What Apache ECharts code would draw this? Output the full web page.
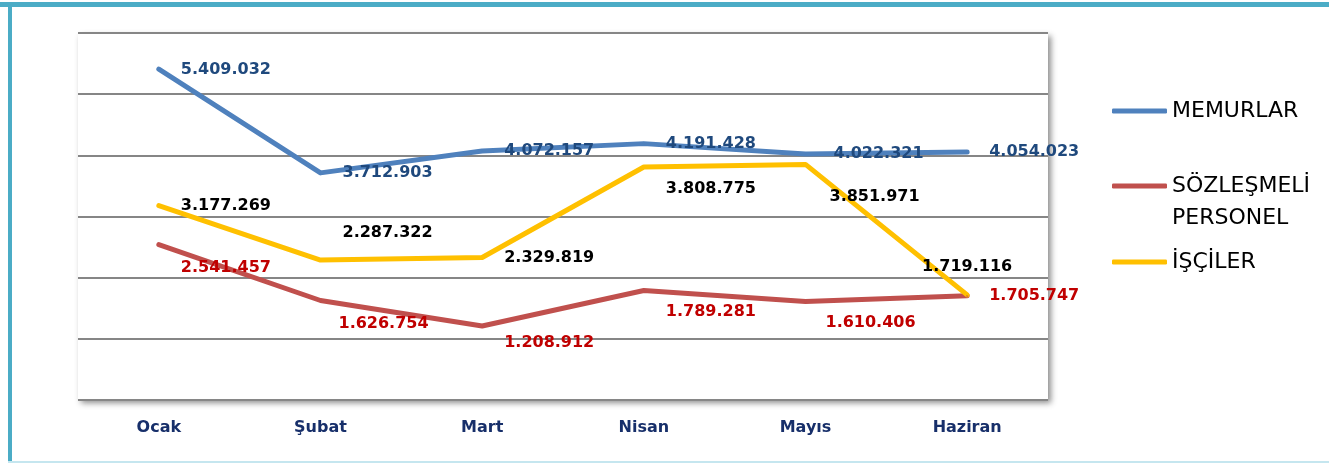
<!DOCTYPE html>
<html>
<head>
<meta charset="utf-8">
<script src="https://cdn.jsdelivr.net/npm/echarts@6/dist/echarts.min.js"></script>
<style>
html, body { margin: 0; padding: 0; background: #fff; }
#main { width: 1329px; height: 463px; }
</style>
</head>
<body>
<div id="main"></div>
<script>
var categories = ['Ocak', 'Şubat', 'Mart', 'Nisan', 'Mayıs', 'Haziran'];
var memurlar = [5409032, 3712903, 4072157, 4191428, 4022321, 4054023];
var sozlesmeli = [2541457, 1626754, 1208912, 1789281, 1610406, 1705747];
var isciler = [3177269, 2287322, 2329819, 3808775, 3851971, 1719116];
var seriesNames = ['MEMURLAR', 'SÖZLEŞMELİ PERSONEL', 'İŞÇİLER'];

function fmt(v) {
    return String(v).replace(/\B(?=(\d{3})+(?!\d))/g, '.');
}

// label nudges per point [dx, dy]
function withOffsets(values, offs, extra) {
    return values.map(function (v, i) {
        var lab = { offset: offs[i] };
        if (extra && extra[i]) {
            for (var k in extra[i]) lab[k] = extra[i][k];
        }
        return { value: v, label: lab };
    });
}

var labelFont = 'DejaVu Sans';

function lineSeries(name, data, color, labelColor) {
    return {
        name: name,
        type: 'line',
        data: data,
        symbol: 'circle',
        symbolSize: 2,
        showSymbol: true,
        itemStyle: { color: color },
        lineStyle: { color: color, width: 5, cap: 'round', join: 'round' },
        label: {
            show: true,
            position: 'right',
            distance: 21,
            color: labelColor,
            fontFamily: labelFont,
            fontWeight: 'bold',
            fontSize: 16,
            formatter: function (p) { return fmt(p.value); }
        },
        emphasis: { disabled: true },
        animation: false
    };
}

var myChart = echarts.init(document.getElementById('main'));

var legendBase = {
    orient: 'vertical',
    left: 1112,
    padding: 0,
    icon: 'roundRect',
    itemWidth: 55,
    itemHeight: 5,
    selectedMode: false,
    textStyle: { fontFamily: labelFont, fontSize: 22, color: '#000', lineHeight: 32 }
};

option = {
    backgroundColor: '#fff',
    graphic: [
        { type: 'rect', z: -10, shape: { x: 0, y: 2, width: 1329, height: 5 }, style: { fill: '#4BACC6' } },
        { type: 'rect', z: -10, shape: { x: 8, y: 2, width: 4, height: 461 }, style: { fill: '#4BACC6' } },
        { type: 'rect', z: -10, shape: { x: 8, y: 461, width: 1321, height: 2 }, style: { fill: '#C5E6EF' } }
    ],
    legend: [
        Object.assign({}, legendBase, { top: 95, data: [seriesNames[0]] }),
        Object.assign({}, legendBase, {
            top: 138, data: [seriesNames[1]],
            // blank first line keeps the icon level with the first word
            formatter: function () { return ' \nSÖZLEŞMELİ\nPERSONEL'; }
        }),
        Object.assign({}, legendBase, { top: 246, data: [seriesNames[2]] })
    ],
    grid: {
        left: 78,
        right: 281,
        top: 33,
        bottom: 63,
        show: true,
        backgroundColor: '#fff',
        borderWidth: 0,
        shadowColor: 'rgba(0,0,0,0.45)',
        shadowBlur: 6,
        shadowOffsetX: 3,
        shadowOffsetY: 3
    },
    xAxis: {
        type: 'category',
        data: categories,
        boundaryGap: true,
        axisLine: { show: false },
        axisTick: { show: false },
        axisLabel: {
            margin: 20,
            color: '#172F6A',
            fontFamily: labelFont,
            fontWeight: 'bold',
            fontSize: 16
        }
    },
    yAxis: {
        type: 'value',
        min: 0,
        max: 6000000,
        interval: 1000000,
        axisLine: { show: false },
        axisTick: { show: false },
        axisLabel: { show: false },
        splitLine: { lineStyle: { color: '#868686', width: 2 } }
    },
    series: [
        lineSeries(seriesNames[0],
            withOffsets(memurlar, [[0, 1], [0, 0], [0, 0], [0, 0], [6, 0], [0, 0]]),
            '#4F81BD', '#1F497D'),
        lineSeries(seriesNames[1],
            withOffsets(sozlesmeli, [[0, 23], [-4, 23], [0, 17], [0, 21], [-2, 21], [0, 0]]),
            '#C0504D', '#C00000'),
        lineSeries(seriesNames[2],
            withOffsets(isciler, [[0, 0], [0, -27], [0, 0], [0, 22], [2, 32], [0, 0]],
                [null, null, null, null, null, { position: 'top', distance: 19 }]),
            '#FFC000', '#000000')
    ]
};

myChart.setOption(option);
</script>
</body>
</html>
